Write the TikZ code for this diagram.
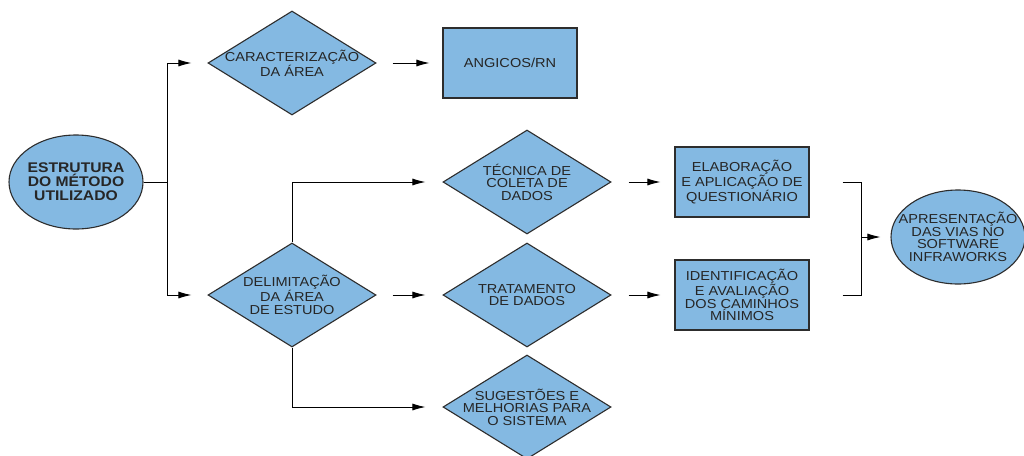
\documentclass[tikz,border=0pt]{standalone}
\usepackage{fontspec}
\setmainfont{Liberation Sans}[FakeStretch=1.12]
\usetikzlibrary{shapes,arrows.meta,calc}
\definecolor{boxblue}{RGB}{132,185,226}
\definecolor{lineg}{RGB}{45,45,45}
\tikzstyle{stage}=[diamond,fill=boxblue,draw=lineg,line width=1.1pt,minimum width=168pt,minimum height=104pt,inner sep=0pt]
\tikzstyle{result}=[rectangle,fill=boxblue,draw=lineg,line width=1.1pt,minimum width=134pt,minimum height=70pt,inner sep=0pt]
\tikzstyle{terminal}=[ellipse,fill=boxblue,draw=lineg,line width=1.1pt,minimum width=134pt,minimum height=94pt,inner sep=0pt]
\tikzstyle{caption}=[align=center,inner sep=0pt,text=black!85,font=\fontsize{13}{12.5}\selectfont]
\tikzstyle{edge} = [draw,line width=0.9pt,-{Latex[length=13pt,width=7pt]}]
\tikzstyle{plainedge} = [draw,line width=0.9pt]

\begin{document}
\begin{tikzpicture}[x=1pt,y=-1pt]

\useasboundingbox[fill=white] (0,0) rectangle (1024,455);

% start
\node[terminal,label={[caption,font=\bfseries\fontsize{14}{14}\selectfont]center:{ESTRUTURA\\DO MÉTODO\\UTILIZADO}}] (est) at (76,182) {};

%layer 1
    \foreach \pos/\name/\txt in {{(292,63)/d1/{CARACTERIZAÇÃO\\DA ÁREA}}, {(292,295)/d2/{DELIMITAÇÃO\\DA ÁREA\\DE ESTUDO}}}
        \node[stage,label={[caption]center:\txt}] (\name) at \pos {};
%layer 2
    \def\cx{527};
    \foreach \pos/\name/\txt in {{(\cx,182)/d3/{TÉCNICA DE\\COLETA DE\\DADOS}}, {(\cx,295)/d4/{TRATAMENTO\\DE DADOS}}, {(\cx,407)/d5/{SUGESTÕES E\\MELHORIAS PARA\\O SISTEMA}}}
        \node[stage,label={[caption]center:\txt}] (\name) at \pos {};

% boxes
    \foreach \pos/\name/\txt in {{(510,63)/b1/{ANGICOS/RN}}, {(742,182)/b2/{ELABORAÇÃO\\E APLICAÇÃO DE\\QUESTIONÁRIO}}, {(742,295)/b3/{IDENTIFICAÇÃO\\E AVALIAÇÃO\\DOS CAMINHOS\\MÍNIMOS}}}
        \node[result,label={[caption]center:\txt}] (\name) at \pos {};

% end
\node[terminal,label={[caption]center:{APRESENTAÇÃO\\DAS VIAS NO\\SOFTWARE\\INFRAWORKS}}] (fin) at (958,237) {};

\coordinate (split) at (167,182);
\coordinate (join) at (861,237);

    % Connect
    \path[plainedge] (est) -- (split);
    \foreach \dest in {d1,d2}
        \path[edge,shorten >=16pt] (split) |- (\dest);
    \foreach \dest in {d3,d5}
        \path[edge,shorten >=17pt] (d2) |- (\dest);
    \path[edge,shorten <=16pt,shorten >=17pt] (d2) -- (d4);
    \path[edge,shorten <=16pt,shorten >=13pt] (d1) -- (b1);
    \foreach \source/ \dest in {d3/b2, d4/b3}
        \path[edge,shorten <=17pt,shorten >=14pt] (\source) -- (\dest);
    \foreach \source in {b2,b3}
        \path[plainedge,shorten <=33pt] (\source) -| (join);
    \path[edge,shorten >=10pt] (join) -- (fin);

\end{tikzpicture}
\end{document}
